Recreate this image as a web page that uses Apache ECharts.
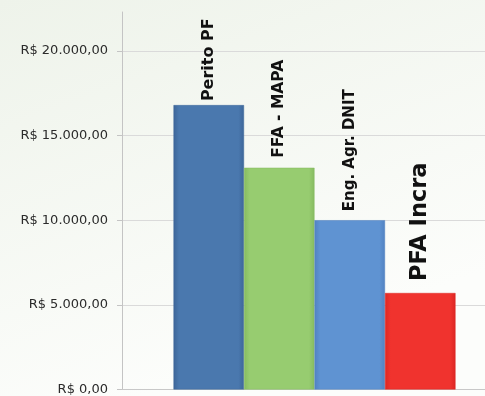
<!DOCTYPE html>
<html>
<head>
<meta charset="utf-8">
<script src="https://cdn.jsdelivr.net/npm/echarts@6/dist/echarts.min.js"></script>
<style>
html,body{margin:0;padding:0;}
#c{width:485px;height:396px;}
</style>
</head>
<body>
<div id="c"></div>
<script>
const seriesNames = ['Perito PF', 'FFA - MAPA', 'Eng. Agr. DNIT', 'PFA Incra'];
const seriesValues = [16800, 13100, 10000, 5700];
const yTicks = [0, 5000, 10000, 15000, 20000];
const yMax = 22300;

const colors = [
  ['#4a78ae', '#3d6699'],
  ['#97cc70', '#86bb60'],
  ['#5f93d2', '#5182c2'],
  ['#f0332e', '#dc2623']
];
const labelSizes = [16, 15.5, 15, 22.5];
const labelDist = [4, 10, 9, 12];

function fmt(v) {
  const s = String(Math.round(v)).replace(/\B(?=(\d{3})+(?!\d))/g, '.');
  return 'R$ ' + s + ',00';
}

const barSeries = seriesNames.map((name, i) => ({
  type: 'bar',
  name: name,
  data: [seriesValues[i]],
  barWidth: 70.5,
  barGap: '0%',
  itemStyle: {
    color: {
      type: 'linear', x: 0, y: 0, x2: 1, y2: 0,
      colorStops: [
        {offset: 0, color: colors[i][1]},
        {offset: 0.08, color: colors[i][0]},
        {offset: 0.92, color: colors[i][0]},
        {offset: 1, color: colors[i][1]}
      ]
    },
    borderColor: colors[i][1],
    borderWidth: 0.5
  },
  label: {
    show: true,
    position: 'top',
    rotate: 90,
    align: 'left',
    verticalAlign: 'middle',
    distance: labelDist[i],
    formatter: name,
    fontFamily: 'DejaVu Sans',
    fontWeight: 'bold',
    fontSize: labelSizes[i],
    color: '#111'
  }
}));

// invisible spacer that shifts the bar group to the right like in the original
const spacer = {
  type: 'bar', name: 'spacer', data: ['-'], barWidth: 22, barGap: '0%',
  silent: true, itemStyle: {color: 'transparent'}, label: {show: false}
};

const chart = echarts.init(document.getElementById('c'));
chart.setOption({
  backgroundColor: {
    type: 'linear', x: 0, y: 0, x2: 0.3, y2: 1,
    colorStops: [{offset: 0, color: '#eef3ea'}, {offset: 1, color: '#fcfdfb'}]
  },
  animation: false,
  grid: {left: 122, right: 0, top: 12, bottom: 5, containLabel: false},
  xAxis: {
    type: 'category',
    data: [''],
    axisLine: {show: true, lineStyle: {color: '#c8c8c8'}},
    axisTick: {show: false},
    axisLabel: {show: false}
  },
  yAxis: {
    type: 'value',
    min: 0, max: yMax, interval: 5000,
    axisLine: {show: true, lineStyle: {color: '#c4c4c4'}},
    axisTick: {show: true, length: 5, lineStyle: {color: '#c4c4c4'}, customValues: yTicks},
    axisLabel: {
      customValues: yTicks,
      margin: 14,
      fontFamily: 'DejaVu Sans', fontSize: 13, color: '#2b2b2b',
      formatter: fmt
    },
    splitLine: {show: true, lineStyle: {color: '#dadada'}}
  },
  series: [spacer].concat(barSeries)
});
</script>
</body>
</html>
